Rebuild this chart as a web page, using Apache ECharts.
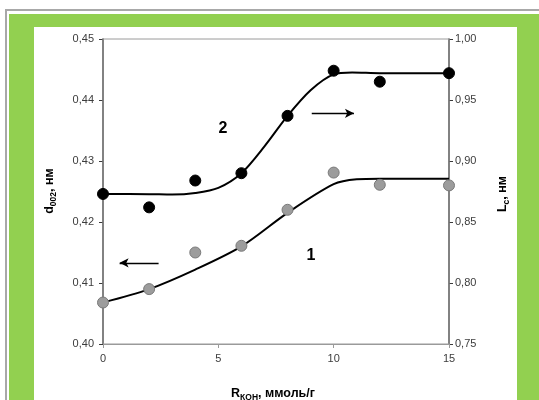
<!DOCTYPE html>
<html>
<head>
<meta charset="utf-8">
<script src="https://cdn.jsdelivr.net/npm/echarts@6/dist/echarts.min.js"></script>
<style>
html,body{margin:0;padding:0;background:#fff;}
#c{width:539px;height:400px;}
</style>
</head>
<body>
<div id="c"></div>
<script>
// Data
const xCats = [0, 2, 4, 6, 8, 10, 12, 15];
const d002 = [0.4068, 0.4090, 0.4150, 0.4161, 0.4220, 0.4281, 0.4261, 0.4260];
const lc = [0.873, 0.862, 0.884, 0.890, 0.937, 0.974, 0.965, 0.972];
const fit1X = [0, 2, 4, 6, 8, 10, 11, 12, 15];
const fit1Y = [0.4068, 0.4090, 0.4122, 0.4160, 0.4215, 0.4262, 0.4270, 0.4271, 0.4271];
const fit2X = [0, 2, 3, 4, 5, 6, 7, 8, 9, 10, 10.8, 12, 15];
const fit2Y = [0.873, 0.8728, 0.8725, 0.8738, 0.878, 0.890, 0.912, 0.937, 0.958, 0.971, 0.9725, 0.972, 0.972];
const leftTicks = [0.40, 0.45, 0.01];
const rightTicks = [0.75, 1.00, 0.05];
const xTicks = [0, 15, 5];
// arrow annotations (data coords)
const arrow1 = [[2.41, 0.4133], [0.72, 0.4133]];
const arrow2 = [[9.05, 0.9391], [10.88, 0.9391]];

const zip = (a, b) => a.map((v, i) => [v, b[i]]);
const comma = v => v.toFixed(2).replace('.', ',');
const FONT = 'Liberation Sans, Arial, sans-serif';
const labelStyle = {fontFamily: FONT, fontSize: 11, color: '#3c3c3c'};
const titleRich = {
  a: {fontFamily: FONT, fontSize: 12.5, fontWeight: 'bold', lineHeight: 14, verticalAlign: 'bottom', color: '#000'},
  b: {fontFamily: FONT, fontSize: 8.5, fontWeight: 'bold', lineHeight: 14, verticalAlign: 'bottom', padding: [0, 0, -2, 0], color: '#000'}
};

const chart = echarts.init(document.getElementById('c'), null, {renderer: 'canvas'});
chart.setOption({
  animation: false,
  backgroundColor: '#fff',
  grid: {left: 103, right: 90, top: 39, bottom: 56, show: true, borderColor: '#9a9a9a', borderWidth: 1, backgroundColor: 'transparent', z: 3},
  graphic: [
    {type: 'rect', z: -10, shape: {x: 5, y: 9, width: 560, height: 420}, style: {fill: '#a8a8a8'}},
    {type: 'rect', z: -9, shape: {x: 7, y: 11, width: 560, height: 420}, style: {fill: '#ffffff'}},
    {type: 'rect', z: -8, shape: {x: 9, y: 14, width: 560, height: 420}, style: {fill: '#92d050'}},
    {type: 'rect', z: -7, shape: {x: 34, y: 27, width: 483, height: 420}, style: {fill: '#ffffff'}},
    {type: 'text', z: 10, x: 223, y: 129, style: {text: '2', font: 'bold 16px ' + FONT, fill: '#000', textAlign: 'center', textVerticalAlign: 'middle'}},
    {type: 'text', z: 10, x: 311, y: 256, style: {text: '1', font: 'bold 16px ' + FONT, fill: '#000', textAlign: 'center', textVerticalAlign: 'middle'}},
    {type: 'text', z: 10, x: 49, y: 191, rotation: Math.PI / 2,
      style: {text: '{a|d}{b|002}{a|, нм}', textAlign: 'center', textVerticalAlign: 'middle', rich: titleRich}},
    {type: 'text', z: 10, x: 502, y: 194, rotation: Math.PI / 2,
      style: {text: '{a|L}{b|c}{a|, нм}', textAlign: 'center', textVerticalAlign: 'middle', rich: titleRich}},
    {type: 'text', z: 10, x: 273, y: 393,
      style: {text: '{a|R}{b|КОН}{a|, ммоль/г}', textAlign: 'center', textVerticalAlign: 'middle', rich: titleRich}}
  ],
  xAxis: {
    type: 'value', min: xTicks[0], max: xTicks[1], interval: xTicks[2],
    axisLine: {show: true, onZero: false, lineStyle: {color: '#9a9a9a', width: 1}},
    axisTick: {show: true, inside: false, length: 4, lineStyle: {color: '#9a9a9a'}},
    axisLabel: Object.assign({margin: 9}, labelStyle),
    splitLine: {show: false}
  },
  yAxis: [
    {
      type: 'value', min: leftTicks[0], max: leftTicks[1], interval: leftTicks[2], position: 'left',
      axisLine: {show: true, onZero: false, lineStyle: {color: '#3a3a3a', width: 1.5}},
      axisTick: {show: true, length: 4, lineStyle: {color: '#3a3a3a'}},
      axisLabel: Object.assign({margin: 9, formatter: comma}, labelStyle),
      splitLine: {show: false}
    },
    {
      type: 'value', min: rightTicks[0], max: rightTicks[1], interval: rightTicks[2], position: 'right',
      axisLine: {show: true, onZero: false, lineStyle: {color: '#3a3a3a', width: 1.5}},
      axisTick: {show: true, length: 4, lineStyle: {color: '#3a3a3a'}},
      axisLabel: Object.assign({margin: 6, formatter: comma}, labelStyle),
      splitLine: {show: false}
    }
  ],
  series: [
    {type: 'line', yAxisIndex: 0, data: zip(fit1X, fit1Y), smooth: 0.3, showSymbol: false, symbol: 'none',
      lineStyle: {color: '#000', width: 2}, z: 4,
      markLine: {silent: true, symbol: ['none', 'arrow'], symbolSize: [7, 9], label: {show: false},
        lineStyle: {color: '#000', width: 1.3, type: 'solid'},
        data: [[{coord: arrow1[0]}, {coord: arrow1[1]}]]}},
    {type: 'line', yAxisIndex: 1, data: zip(fit2X, fit2Y), smooth: 0.3, showSymbol: false, symbol: 'none',
      lineStyle: {color: '#000', width: 2}, z: 4,
      markLine: {silent: true, symbol: ['none', 'arrow'], symbolSize: [7, 9], label: {show: false},
        lineStyle: {color: '#000', width: 1.3, type: 'solid'},
        data: [[{coord: arrow2[0]}, {coord: arrow2[1]}]]}},
    {type: 'scatter', yAxisIndex: 0, data: zip(xCats, d002), symbol: 'circle', symbolSize: 11,
      itemStyle: {color: '#9c9c9c', borderColor: '#7a7a7a', borderWidth: 1, opacity: 1}, z: 5},
    {type: 'scatter', yAxisIndex: 1, data: zip(xCats, lc), symbol: 'circle', symbolSize: 11,
      itemStyle: {color: '#000', borderColor: '#000', borderWidth: 1, opacity: 1}, z: 5}
  ]
});
</script>
</body>
</html>
